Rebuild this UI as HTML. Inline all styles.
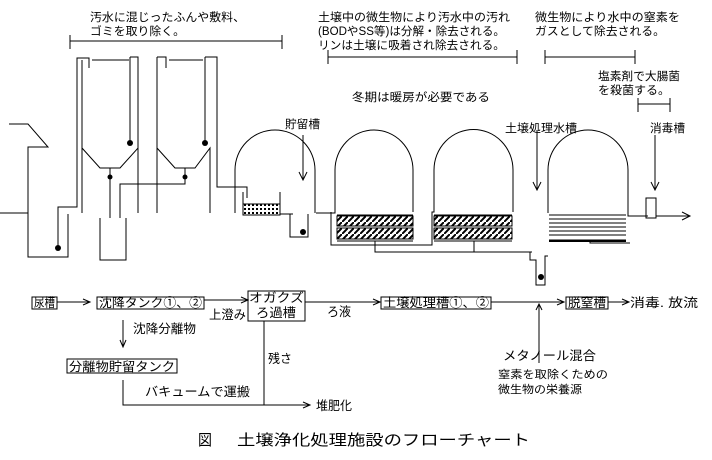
<!DOCTYPE html>
<html><head><meta charset="utf-8"><style>
html,body{margin:0;padding:0;background:#fff;}
svg{display:block;}
text{font-family:"Liberation Sans","Noto Sans CJK JP",sans-serif;font-size:11.5px;fill:#000;}
.f{font-size:12.5px;}
.s{font-size:11px;}
</style></head><body>
<svg width="712" height="460" viewBox="0 0 712 460" xmlns="http://www.w3.org/2000/svg">
<defs>
<pattern id="h" width="6" height="6" patternUnits="userSpaceOnUse"><rect width="6" height="6" fill="#fff"/><path d="M0 6L6 0" stroke="#000" stroke-width="2"/></pattern>
<pattern id="g" width="4" height="4" patternUnits="userSpaceOnUse"><rect width="4" height="4" fill="#fff"/><rect width="2" height="2" fill="#000"/></pattern>
</defs>
<g fill="none" stroke="#000" stroke-width="1">
<path d="M70 35V49M282 35V49M70 41H282"/>
<path d="M328 50V64M517 50V64M328 57H517"/>
<path d="M545 50V64M635 50V64M545 57H635"/>
<path d="M638 98V112M670 98V112M638 104H670"/>
<path d="M9 124H28L48 147H28V257H68V214M0 213H28"/>
<path d="M58 248V207H77V58H89V68M82 60V213"/>
<path d="M92 60H129M82 148L100 168H120L138 148V213M130 57V142M130 57H138V213"/>
<path d="M110 168V218M100 218V260H126V218M120 218V184H185V168"/>
<path d="M157 57V213M157 57H166V68M169 60H203M157 148L175 168H195L210 148V213M205 57V142M205 57H217V187H247V198"/>
<path d="M235 213V170A40 40 0 0 1 315 170V213"/>
<path d="M243 192V215H280V192M280 214H293M290 214V237H308V214"/>
<path d="M303 135V180M299 172L303 180L307 172"/>
<path d="M316 213H335V170A39 40 0 0 1 413 170V212"/>
<path d="M331 212V245H432V212H434V170A39 40 0 0 1 513 170V212"/>
<path d="M337 215H413M337 241H413M434 215H512M434 241H512"/>
<path d="M375 241V252H532M474 241V252M530 252V260H536V285H545V256H548"/>
<path d="M537 130V190M533 182L537 190L541 182"/>
<path d="M548 213V170A40 40 0 0 1 628 170V216H648"/>
<path d="M549 215H626M549 219H626M549 223H626M549 227H626M549 231H626M549 235H626M549 240H626M590 240V243H630"/>
<path d="M655 135V190M651 182L655 190L659 182"/>
<rect x="646" y="198" width="10" height="20"/>
<path d="M656 216H690M682 212L690 216L682 220"/>
</g>
<rect x="243" y="204" width="37" height="11" fill="url(#g)" stroke="#000"/>
<rect x="337" y="216" width="76" height="10" fill="url(#h)" stroke="#000"/>
<rect x="337" y="228" width="76" height="11" fill="url(#h)" stroke="#000"/>
<rect x="434" y="216" width="78" height="10" fill="url(#h)" stroke="#000"/>
<rect x="434" y="228" width="78" height="11" fill="url(#h)" stroke="#000"/>
<rect x="549" y="240" width="77" height="2" fill="#000"/>
<g fill="#000"><circle cx="58" cy="248" r="3"/><circle cx="130" cy="143" r="3"/><circle cx="205" cy="143" r="3"/><circle cx="303" cy="232" r="3"/><circle cx="541" cy="277" r="3"/><circle cx="110" cy="177" r="2.5"/><circle cx="185" cy="177" r="2.5"/></g>
<text x="90" y="21" textLength="155" lengthAdjust="spacingAndGlyphs">汚水に混じったふんや敷料、</text>
<text x="90" y="35" textLength="95" lengthAdjust="spacingAndGlyphs">ゴミを取り除く。</text>
<text x="318" y="21" textLength="192" lengthAdjust="spacingAndGlyphs">土壌中の微生物により汚水中の汚れ</text>
<text x="318" y="35" textLength="187" lengthAdjust="spacingAndGlyphs">(BODやSS等)は分解・除去される。</text>
<text x="318" y="49" textLength="187" lengthAdjust="spacingAndGlyphs">リンは土壌に吸着され除去される。</text>
<text x="535" y="21" textLength="145" lengthAdjust="spacingAndGlyphs">微生物により水中の窒素を</text>
<text x="535" y="35" textLength="130" lengthAdjust="spacingAndGlyphs">ガスとして除去される。</text>
<text x="598" y="80" textLength="82" lengthAdjust="spacingAndGlyphs">塩素剤で大腸菌</text>
<text x="598" y="94" textLength="72" lengthAdjust="spacingAndGlyphs">を殺菌する。</text>
<text x="352" y="101" textLength="138" lengthAdjust="spacingAndGlyphs">冬期は暖房が必要である</text>
<text x="285" y="128" textLength="35" lengthAdjust="spacingAndGlyphs">貯留槽</text>
<text x="505" y="132" textLength="72" lengthAdjust="spacingAndGlyphs">土壌処理水槽</text>
<text x="650" y="132" textLength="35" lengthAdjust="spacingAndGlyphs">消毒槽</text>
<g fill="none" stroke="#000">
<rect x="32" y="297" width="25" height="12"/>
<rect x="97" y="297" width="107" height="12"/>
<rect x="248" y="291" width="57" height="30"/>
<rect x="381" y="297" width="110" height="12"/>
<rect x="566" y="297" width="42" height="12"/>
<rect x="67" y="359" width="110" height="14"/>
<path d="M57 302H90M83 299L90 302L83 305M204 300H248M241 297L248 300L241 303M305 302H380M373 299L380 302L373 305M491 302H564M557 299L564 302L557 305M608 302H629M622 299L629 302L622 305"/>
<path d="M539 363V304M536 310L539 304L542 310"/>
<path d="M123 320V347M120 340L123 347L126 340"/>
<path d="M123 380V405H310M303 402L310 405L303 408M264 321V405"/>
</g>
<g class="f">
<text x="34" y="307" class="f" textLength="21" lengthAdjust="spacingAndGlyphs">尿槽</text>
<text x="99" y="307" class="f" textLength="103" lengthAdjust="spacingAndGlyphs">沈降タンク①、②</text>
<text x="209" y="319" class="f" textLength="37" lengthAdjust="spacingAndGlyphs">上澄み</text>
<text x="249" y="302" class="f" textLength="55" lengthAdjust="spacingAndGlyphs">オガクズ</text>
<text x="256" y="317" class="f" textLength="40" lengthAdjust="spacingAndGlyphs">ろ過槽</text>
<text x="327" y="316" class="f" textLength="24" lengthAdjust="spacingAndGlyphs">ろ液</text>
<text x="383" y="307" class="f" textLength="106" lengthAdjust="spacingAndGlyphs">土壌処理槽①、②</text>
<text x="568" y="307" class="f" textLength="38" lengthAdjust="spacingAndGlyphs">脱窒槽</text>
<text x="630" y="307" class="f" textLength="68" lengthAdjust="spacingAndGlyphs">消毒. 放流</text>
<text x="133" y="333" class="f" textLength="63" lengthAdjust="spacingAndGlyphs">沈降分離物</text>
<text x="69" y="371" class="f" textLength="106" lengthAdjust="spacingAndGlyphs">分離物貯留タンク</text>
<text x="268" y="363" class="f" textLength="24" lengthAdjust="spacingAndGlyphs">残さ</text>
<text x="145" y="396" class="f" textLength="105" lengthAdjust="spacingAndGlyphs">バキュームで運搬</text>
<text x="316" y="410" class="f" textLength="36" lengthAdjust="spacingAndGlyphs">堆肥化</text>
<text x="503" y="360" class="f" textLength="93" lengthAdjust="spacingAndGlyphs">メタノール混合</text>
</g>
<text x="498" y="378" class="s" textLength="110" lengthAdjust="spacingAndGlyphs">窒素を取除くための</text>
<text x="498" y="393" class="s" textLength="84" lengthAdjust="spacingAndGlyphs">微生物の栄養源</text>
<text x="198" y="445" style="font-size:15px" textLength="14" lengthAdjust="spacingAndGlyphs">図</text>
<text x="237" y="445" style="font-size:15px" textLength="293" lengthAdjust="spacingAndGlyphs">土壌浄化処理施設のフローチャート</text>
</svg>
</body></html>
